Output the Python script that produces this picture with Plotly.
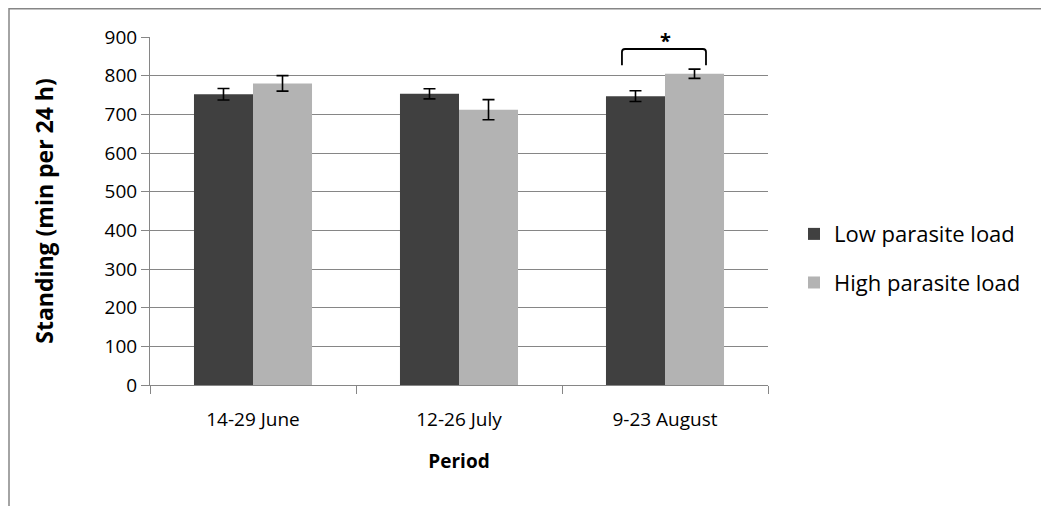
import plotly.graph_objects as go

periods = ["14-29 June", "12-26 July", "9-23 August"]
low_load = [752, 753, 747]
low_err = [15, 13, 14]
high_load = [780, 712, 805]
high_err = [20, 26, 12]
y_ticks = [0, 100, 200, 300, 400, 500, 600, 700, 800, 900]
y_max = 900

FONT = "Open Sans"
GRID = "#868686"

# plot area in figure pixels (figure sits at page offset 8,8)
L, R, T, B = 142, 760, 29, 377
W, H = 1041, 498
PW, PH = R - L, B - T

fig = go.Figure()
fig.add_trace(go.Bar(
    x=periods, y=low_load, name="Low parasite load", legendgroup="low",
    marker=dict(color="#404040", line=dict(width=0)),
    error_y=dict(type="data", array=low_err, color="black", thickness=1.6, width=6),
))
fig.add_trace(go.Bar(
    x=periods, y=high_load, name="High parasite load", legendgroup="high",
    marker=dict(color="#b3b3b3", line=dict(width=0)),
    error_y=dict(type="data", array=high_err, color="black", thickness=1.6, width=6),
))

# significance bracket between the two August bars
fig.add_shape(type="path", xref="x", yref="y",
              path="M 1.791,827 L 1.791,861 Q 1.791,869 1.806,869 L 2.184,869 Q 2.199,869 2.199,861 L 2.199,827",
              line=dict(color="black", width=1.8))
fig.add_annotation(x=2, y=891 / y_max, xref="x", yref="paper", text="<b>*</b>", showarrow=False,
                   font=dict(family=FONT, size=20, color="black"), yanchor="middle")

# outer chart border (top and left edges visible)
fig.add_shape(type="rect", xref="paper", yref="paper",
              x0=(1 - L) / PW, x1=(W + 40 - L) / PW,
              y0=(B - (H + 40)) / PH, y1=(B - 0.75) / PH,
              line=dict(color=GRID, width=1.5), layer="below")

fig.update_layout(
    width=W, height=H,
    margin=dict(l=L, r=W - R, t=T, b=H - B, pad=0),
    paper_bgcolor="white", plot_bgcolor="white",
    barmode="group", bargap=0.427, bargroupgap=0,
    font=dict(family=FONT, size=19, color="black"),
    showlegend=True,
    legend=dict(x=(786 - L) / PW, y=0.494, xanchor="left", yanchor="top",
                font=dict(family=FONT, size=22, color="black"),
                tracegroupgap=17, bgcolor="rgba(0,0,0,0)"),
    xaxis=dict(
        type="category", tickson="boundaries", ticks="outside", ticklen=8,
        tickcolor=GRID, tickwidth=1, showline=True, linecolor=GRID, linewidth=1,
        showgrid=False,
        title=dict(text="<b>Period</b>", font=dict(family=FONT, size=19), standoff=23),
        tickfont=dict(family=FONT, size=19), ticklabelstandoff=17,
    ),
    yaxis=dict(
        range=[0, y_max], tickvals=y_ticks, ticks="outside", ticklen=8,
        tickcolor=GRID, tickwidth=1, showline=True, linecolor=GRID, linewidth=1,
        showgrid=True, gridcolor=GRID, gridwidth=1, zeroline=False,
        title=dict(text="<b>Standing (min per 24 h)</b>", font=dict(family=FONT, size=23), standoff=44),
        tickfont=dict(family=FONT, size=19), ticklabelstandoff=0,
    ),
)

fig.write_html("out.html")
